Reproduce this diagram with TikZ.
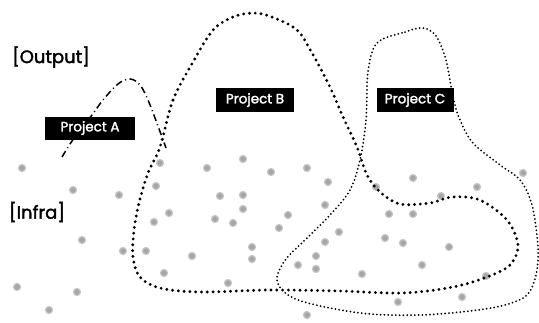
\documentclass[tikz,border=0pt]{standalone}
\usepackage{fontspec}
\setmainfont{Poppins}[FakeBold=2, AutoFakeBold=2]

\tikzstyle{speck}=[circle,fill=gray!70,draw=gray!45,line width=1.2pt,minimum size=7pt,inner sep=0pt]
\tikzstyle{projbox}=[fill=black,text=white,inner sep=0pt,font=\fontsize{13.5}{13.5}\selectfont\bfseries]
\tikzstyle{layer}=[font=\fontsize{18}{18}\selectfont\bfseries]
\tikzstyle{reachA}=[draw,line width=1.5pt,dash pattern=on 7pt off 3.5pt on 1pt off 3.5pt]
\tikzstyle{reachB}=[draw,line width=3.2pt,line cap=round,dash pattern=on 0pt off 5.8pt]
\tikzstyle{reachC}=[draw,line width=2pt,line cap=round,dash pattern=on 0pt off 3.8pt]
\newcommand{\pxunit}{1pt}

\begin{document}
\begin{tikzpicture}[x=\pxunit, y=-\pxunit]
    \useasboundingbox (0,0) rectangle (539,322);
    % First we draw the infrastructure specks
    \foreach \pos [count=\i] in {(22,168), (73,190), (119,195), (160,163), (156,186),
        (169,213), (154,222), (82,240), (123,251), (146,251), (164,273), (17,287),
        (77,292), (49,310), (207,168), (243,159), (271,172), (307,168), (328,182),
        (220,196), (243,195), (243,209), (215,219), (233,223), (288,215), (279,228),
        (325,205), (325,242), (252,247), (252,259), (192,256), (316,256), (298,265),
        (316,269), (228,283), (307,315), (413,178), (477,187), (523,173), (376,187),
        (441,196), (389,214), (413,214), (339,232), (385,238), (403,243), (449,247),
        (422,265), (362,274), (486,276), (462,297), (398,302)}
        \node[speck] (d\i) at \pos {};
    % Then the reach of each project
    \path[reachA] plot[smooth, tension=0.6] coordinates {(62,157) (70,144) (80,130)
        (92,115) (103,100) (118,84) (130,79) (140,85) (148,100) (155,118) (166,148)};
    \path[reachB] plot[smooth cycle, tension=0.55] coordinates {(160,147) (173,100)
        (193,62) (213,30) (233,17) (253,13) (272,17) (297,30) (312,53) (330,87)
        (343,117) (357,147) (367,175) (380,192) (400,204) (430,203) (452,197)
        (480,200) (507,220) (518,245) (510,265) (487,277) (453,287) (403,293)
        (340,291) (270,290) (200,292) (160,288) (140,277) (133,257) (134,230)
        (139,203) (148,173)};
    \path[reachC] plot[smooth cycle, tension=0.55] coordinates {(377,43) (405,32)
        (423,28) (436,36) (446,60) (453,97) (460,120) (473,143) (500,165) (520,180)
        (532,205) (538,247) (536,275) (527,295) (505,305) (470,311) (420,315)
        (370,314) (330,308) (298,300) (282,290) (277,277) (286,259) (305,240)
        (330,215) (350,190) (360,160) (366,120) (368,72)};
    % Labels
    \node[layer] (output) at (51,57) {[Output]};
    \node[layer] (infra) at (37,212) {[Infra]};
    \node[projbox, minimum width=90pt, minimum height=23pt] (projA) at (90,128) {Project A};
    \node[projbox, minimum width=78pt, minimum height=24pt] (projB) at (255,100) {Project B};
    \node[projbox, minimum width=77pt, minimum height=24pt] (projC) at (415,100) {Project C};
\end{tikzpicture}
\end{document}
